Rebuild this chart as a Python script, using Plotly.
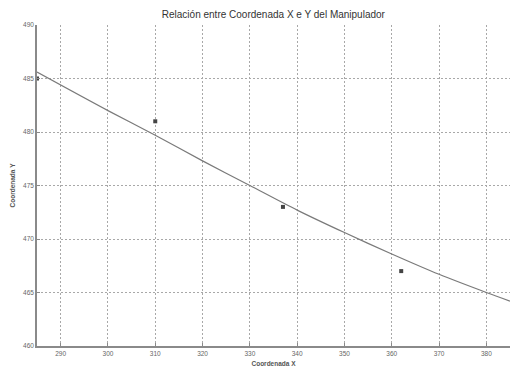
import plotly.graph_objects as go

# measured points
pts_x = [285, 310, 337, 362]
pts_y = [485, 481, 473, 467]

# fitted curve
fit_x = [285, 300, 310, 320, 330, 340, 350, 360, 370, 380, 385]
fit_y = [485.6, 482.0, 479.7, 477.3, 475.0, 472.7, 470.6, 468.6, 466.7, 465.0, 464.2]

x_ticks = [290, 300, 310, 320, 330, 340, 350, 360, 370, 380]
y_ticks = [460, 465, 470, 475, 480, 485, 490]

fig = go.Figure()
fig.add_trace(go.Scatter(x=fit_x, y=fit_y, mode="lines",
                         line=dict(color="#7a7a7a", width=1.2, shape="spline", smoothing=0.8),
                         showlegend=False))
fig.add_trace(go.Scatter(x=pts_x, y=pts_y, mode="markers",
                         marker=dict(symbol="square", size=4, color="#444444"),
                         showlegend=False))

fig.update_layout(
    width=510, height=374,
    margin=dict(l=37, r=0, t=25, b=28),
    paper_bgcolor="white", plot_bgcolor="white",
    title=dict(text="Relación entre Coordenada X e Y del Manipulador",
               x=0.536, xanchor="center", y=0.962, yanchor="middle",
               font=dict(family="Arial, Liberation Sans", size=10, color="#333333")),
    font=dict(family="Arial, Liberation Sans", size=6, color="#666666"),
)
fig.update_xaxes(range=[285, 385], tickvals=x_ticks, ticktext=[str(v) for v in x_ticks],
                 showgrid=True, gridcolor="#a8a8a8", griddash="2px,2px", gridwidth=1,
                 showline=True, linecolor="#8a8a8a", linewidth=1.5, zeroline=False,
                 ticks="inside", ticklen=3, tickcolor="#8a8a8a",
                 tickfont=dict(size=6.5, color="#666666"),
                 title=dict(text="<b>Coordenada X</b>", font=dict(size=6.5, color="#555555"), standoff=6))
fig.update_yaxes(range=[460, 490], tickvals=y_ticks, ticktext=[str(v) for v in y_ticks],
                 showgrid=True, gridcolor="#a8a8a8", griddash="2px,2px", gridwidth=1,
                 showline=True, linecolor="#8a8a8a", linewidth=1.5, zeroline=False,
                 ticks="inside", ticklen=3, tickcolor="#8a8a8a",
                 tickfont=dict(size=6.5, color="#666666"),
                 title=dict(text="<b>Coordenada Y</b>", font=dict(size=6.5, color="#555555"), standoff=7))

fig.write_html("out.html", config={"displayModeBar": False},
               post_script="document.body.style.margin='0';document.body.style.overflow='hidden';")
